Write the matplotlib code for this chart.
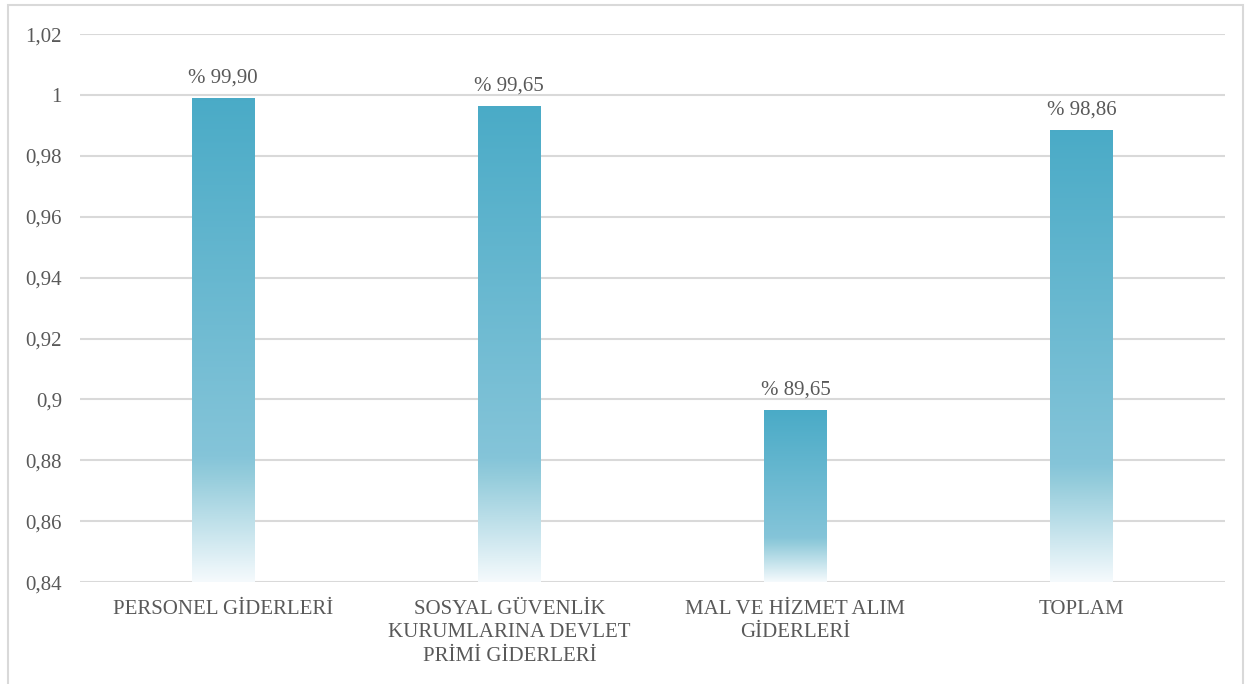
import matplotlib.pyplot as plt
import numpy as np
from matplotlib.colors import LinearSegmentedColormap
from matplotlib.patches import Rectangle

# Datos
categorias = ['PERSONEL GİDERLERİ',
              'SOSYAL GÜVENLİK\nKURUMLARINA DEVLET\nPRİMİ GİDERLERİ',
              'MAL VE HİZMET ALIM\nGİDERLERİ',
              'TOPLAM']
valores = [0.9990, 0.9965, 0.8965, 0.9886]
etiquetas = ['% 99,90', '% 99,65', '% 89,65', '% 98,86']
y_ticks = [0.84, 0.86, 0.88, 0.90, 0.92, 0.94, 0.96, 0.98, 1.00, 1.02]

plt.rcParams['font.family'] = ['Liberation Serif', 'DejaVu Serif']
gris_texto = '#595959'

# degradado: abajo casi blanco -> arriba azul
cmap = LinearSegmentedColormap.from_list('grad', [
    (0.0, (0.96, 0.98, 0.99)),
    (0.22, (0.58, 0.80, 0.86)),
    (0.26, (0.52, 0.77, 0.85)),
    (1.0, (0.29, 0.67, 0.78)),
])

fig = plt.figure(figsize=(12.51, 6.84), dpi=100)
ax = fig.add_axes([0.064, 0.149, 0.915, 0.801])

x = np.arange(len(categorias))
ymin, ymax = 0.84, 1.02
barras = ax.bar(x, [v - ymin for v in valores], bottom=ymin, width=0.22,
                color='none', edgecolor='none', zorder=3)

grad = np.linspace(0, 1, 256).reshape(-1, 1)
for b in barras:
    x0, y0 = b.get_x(), b.get_y()
    w, h = b.get_width(), b.get_height()
    im = ax.imshow(grad, cmap=cmap, origin='lower', aspect='auto',
                   extent=[x0, x0 + w, y0, y0 + h], zorder=3)
    im.set_clip_path(b)

for xi, v, t in zip(x, valores, etiquetas):
    ax.text(xi, v + 0.0035, t, ha='center', va='bottom', fontsize=15, color=gris_texto)

ax.set_xlim(-0.5, len(categorias) - 0.5)
ax.set_ylim(ymin, ymax)
ax.set_yticks(y_ticks)
ax.set_yticklabels([('%g' % t).replace('.', ',') for t in y_ticks])
ax.set_xticks(x)
ax.set_xticklabels(categorias, fontsize=15, color=gris_texto, linespacing=1.3)
ax.tick_params(axis='y', labelsize=15, labelcolor=gris_texto, length=0, pad=13)
ax.tick_params(axis='x', length=0, pad=13)

ax.grid(axis='y', color='#D9D9D9', linewidth=1.5, zorder=0)
ax.set_axisbelow(True)
for s in ax.spines.values():
    s.set_visible(False)

# marco del gráfico
fig.patches.append(Rectangle((0.006, -0.01), 0.988, 1.003, transform=fig.transFigure,
                             fill=False, edgecolor='#D9D9D9', linewidth=1.5))

plt.savefig('out.png', dpi=100)
